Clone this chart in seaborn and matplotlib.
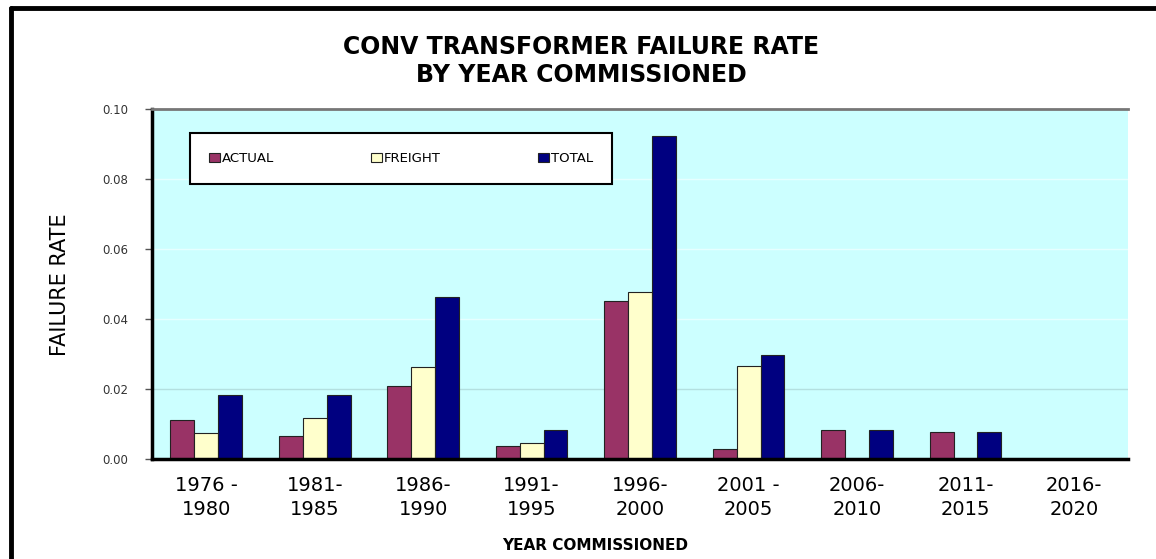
import matplotlib
matplotlib.use('Agg')
import matplotlib.pyplot as plt
import matplotlib.lines as mlines
import numpy as np
import pandas as pd
import seaborn as sns

periods = ['1976 -\n1980', '1981-\n1985', '1986-\n1990', '1991-\n1995', '1996-\n2000',
           '2001 -\n2005', '2006-\n2010', '2011-\n2015', '2016-\n2020']
actual = [0.0111, 0.0066, 0.0209, 0.0037, 0.0451, 0.0029, 0.0083, 0.0077, 0.0]
freight = [0.0074, 0.0117, 0.0263, 0.0046, 0.0477, 0.0266, 0.0, 0.0, 0.0]
total = [0.0183, 0.0183, 0.0463, 0.0083, 0.0923, 0.0297, 0.0083, 0.0077, 0.0]
series = ['ACTUAL', 'FREIGHT', 'TOTAL']
colors = ['#993366', '#FFFFCC', '#000080']

rows = []
for name, vals in zip(series, [actual, freight, total]):
    for p, v in zip(periods, vals):
        rows.append({'period': p, 'series': name, 'rate': v})
df = pd.DataFrame(rows)

sns.set_style('white')
plt.rcParams['font.family'] = ['DejaVu Sans']
plt.rcParams['text.color'] = 'black'
plt.rcParams['xtick.color'] = 'black'
plt.rcParams['ytick.color'] = 'black'

fig = plt.figure(figsize=(11.56, 5.59), dpi=100)
ax = fig.add_axes([0.1315, 0.179, 0.8445, 0.626])

sns.barplot(data=df, x='period', y='rate', hue='series', palette=colors, saturation=1,
            width=0.66, edgecolor='#222222', linewidth=0.8, ax=ax, legend=True)

ax.set_facecolor('#CCFFFF')
ax.set_ylim(0, 0.10)
ax.set_xlim(-0.5, len(periods) - 0.5)
yt = np.arange(0, 0.101, 0.02)
ax.set_yticks(yt)
ax.set_yticklabels(['%.2f' % t for t in yt], fontsize=8.5, color='#333333')
ax.yaxis.grid(True, color='#E6FFFF', linewidth=1.0)
ax.set_axisbelow(True)
for line in ax.get_ygridlines()[1:2]:
    line.set_color('#B3E0E0')

ax.tick_params(axis='x', length=0, labelsize=14, pad=12)
for lbl in ax.get_xticklabels():
    lbl.set_linespacing(1.35)
ax.set_xticks(np.arange(-0.5, len(periods)), minor=True)
ax.tick_params(axis='x', which='minor', length=5, width=1.2, color='#333333')
ax.tick_params(axis='y', length=5, width=1, color='#555555', left=True, pad=12)

for s in ['left', 'bottom']:
    ax.spines[s].set_color('black')
    ax.spines[s].set_linewidth(2.5)
ax.spines['top'].set_color('#777777')
ax.spines['top'].set_linewidth(2)
ax.spines['right'].set_visible(False)

ax.set_xlabel('')
ax.set_ylabel('')
fig.text(0.515, 0.025, 'YEAR COMMISSIONED', ha='center', va='center',
         fontsize=11, fontweight='bold')
fig.text(0.052, 0.49, 'FAILURE RATE', ha='center', va='center', rotation=90,
         fontsize=15)

fig.text(0.503, 0.891, 'CONV TRANSFORMER FAILURE RATE\nBY YEAR COMMISSIONED',
         ha='center', va='center', fontsize=17, fontweight='bold', linespacing=1.2)

leg = ax.legend(loc='center', bbox_to_anchor=(0.039, 0.777, 0.432, 0.163),
                mode='expand', ncol=3, fontsize=9.5, frameon=True, fancybox=False,
                handlelength=0.8, handleheight=0.7, borderpad=1.45,
                handletextpad=0.15, borderaxespad=0)
leg.get_frame().set_edgecolor('black')
leg.get_frame().set_linewidth(1.5)
leg.get_frame().set_facecolor('white')
leg.get_frame().set_alpha(1)

fig.add_artist(mlines.Line2D([0.0095, 0.0095], [0, 0.985], color='black', lw=3.5,
                             transform=fig.transFigure))
fig.add_artist(mlines.Line2D([0.0095, 1.0], [0.985, 0.985], color='black', lw=3.5,
                             transform=fig.transFigure))

fig.savefig('out.png', dpi=100)
